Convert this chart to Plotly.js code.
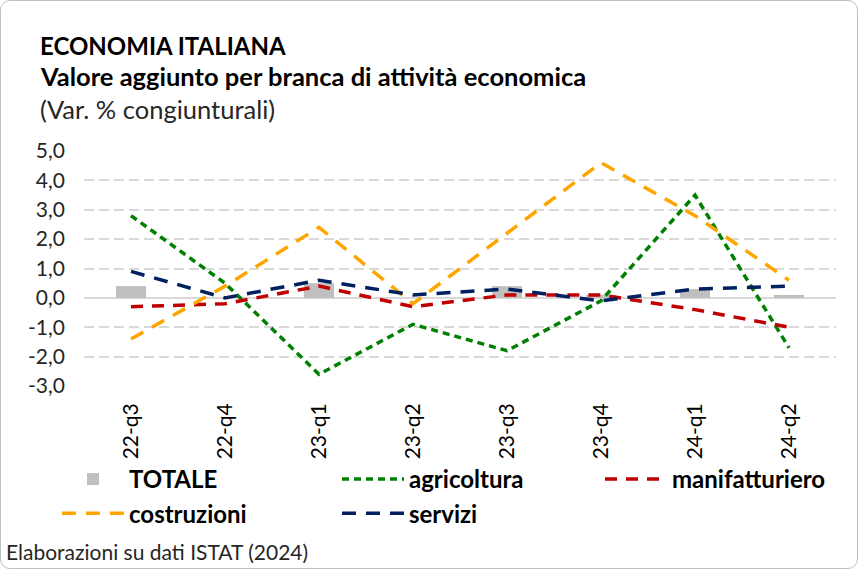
<!DOCTYPE html>
<html><head><meta charset="utf-8">
<script src="https://cdn.plot.ly/plotly-3.0.1.min.js"></script>
<style>
html,body{margin:0;padding:0;background:#fff;}
#wrap{position:relative;width:858px;height:569px;}
#chart{position:absolute;left:0;top:0;width:858px;height:569px;}
#frame{position:absolute;left:0;top:0;width:856px;height:567px;border:1px solid #bfbfbf;border-radius:10px;pointer-events:none;}
</style></head>
<body>
<div id="wrap"><div id="chart"></div><div id="frame"></div></div>
<script>
const categories = ['22-q3','22-q4','23-q1','23-q2','23-q3','23-q4','24-q1','24-q2'];
const totale = [0.4, 0.0, 0.5, 0.0, 0.4, 0.1, 0.3, 0.1];
const agricoltura = [2.8, 0.5, -2.6, -0.9, -1.8, -0.1, 3.5, -1.7];
const manifatturiero = [-0.3, -0.2, 0.4, -0.3, 0.1, 0.1, -0.4, -1.0];
const costruzioni = [-1.4, 0.4, 2.4, -0.2, 2.2, 4.6, 2.8, 0.6];
const servizi = [0.9, 0.0, 0.6, 0.1, 0.3, -0.1, 0.3, 0.4];
const yTickVals = [-3,-2,-1,0,1,2,3,4,5];
const yTickText = ['-3,0','-2,0','-1,0','0,0','1,0','2,0','3,0','4,0','5,0'];

const FONT = 'Lato, "Open Sans", sans-serif';
const W = 858, H = 569;
const M = {l:84, r:22, t:151, b:183};
const pw = W - M.l - M.r, ph = H - M.t - M.b;
const px = x => (x - M.l) / pw;
const py = y => (H - M.b - y) / ph;

const traces = [
  {type:'bar', name:'TOTALE', x:categories, y:totale, marker:{color:'#bfbfbf'},
   legend:'legend', legendgroup:'a'},
  {type:'scatter', mode:'lines', name:'agricoltura', x:categories, y:agricoltura,
   line:{color:'#008000', width:3.5, dash:'7px,5px'}, legend:'legend2', legendgroup:'b'},
  {type:'scatter', mode:'lines', name:'manifatturiero', x:categories, y:manifatturiero,
   line:{color:'#c00000', width:3.5, dash:'12px,9px'}, legend:'legend3', legendgroup:'c'},
  {type:'scatter', mode:'lines', name:'costruzioni', x:categories, y:costruzioni,
   line:{color:'#ffa500', width:3.5, dash:'14px,10px'}, legend:'legend', legendgroup:'d'},
  {type:'scatter', mode:'lines', name:'servizi', x:categories, y:servizi,
   line:{color:'#002060', width:3.5, dash:'14px,10px'}, legend:'legend2', legendgroup:'e'}
];

function leg(xpx){
  return {orientation:'v', x:px(xpx), y:py(457),
          xanchor:'left', yanchor:'top', itemwidth:62, tracegroupgap:11,
          bgcolor:'rgba(0,0,0,0)', borderwidth:0,
          font:{size:24, color:'#000', family:FONT, weight:'bold'}, traceorder:'normal'};
}

const layout = {
  width:W, height:H,
  margin:M,
  paper_bgcolor:'#fff', plot_bgcolor:'#fff',
  font:{family:FONT, color:'#262626'},
  bargap:0.68,
  showlegend:true,
  xaxis:{type:'category', range:[-0.5,7.5], tickangle:-90, showgrid:false, zeroline:false,
         showline:false, ticks:'', tickfont:{size:21, color:'#000'}, ticklabelstandoff:12, automargin:false},
  yaxis:{range:[-3,5], tickvals:yTickVals, ticktext:yTickText, showgrid:true,
         gridcolor:'#d9d9d9', gridwidth:2, griddash:'10px,5px',
         zeroline:true, zerolinecolor:'#d9d9d9', zerolinewidth:2,
         tickfont:{size:21, color:'#262626'}, ticks:'', ticklabelstandoff:18, automargin:false},
  legend:leg(57),
  legend2:leg(337),
  legend3:leg(600),
  annotations:[
    {text:'<b>ECONOMIA ITALIANA</b>', xref:'paper', yref:'paper', x:px(38), y:py(45),
     xanchor:'left', yanchor:'middle', showarrow:false, font:{size:24, color:'#000'}},
    {text:'<b>Valore aggiunto per branca di attività economica</b>', xref:'paper', yref:'paper', x:px(38), y:py(76),
     xanchor:'left', yanchor:'middle', showarrow:false, font:{size:25.5, color:'#000'}},
    {text:'(Var. % congiunturali)', xref:'paper', yref:'paper', x:px(38), y:py(109),
     xanchor:'left', yanchor:'middle', showarrow:false, font:{size:25.5, color:'#262626'}},
    {text:'Elaborazioni su dati ISTAT (2024)', xref:'paper', yref:'paper', x:px(4), y:py(551),
     xanchor:'left', yanchor:'middle', showarrow:false, font:{size:21, color:'#262626'}}
  ]
};
Plotly.newPlot('chart', traces, layout, {displayModeBar:false, staticPlot:true});
</script>
</body></html>
